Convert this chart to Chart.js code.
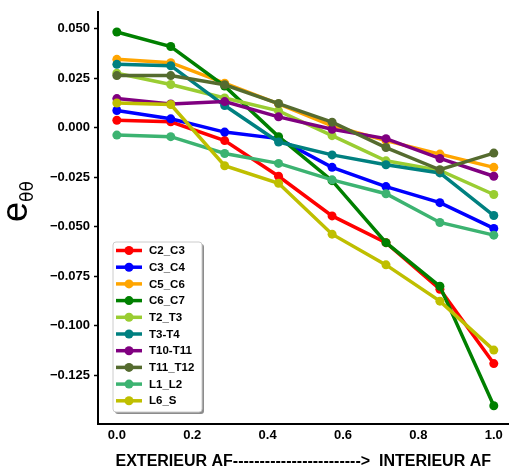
<!DOCTYPE html>
<html>
<head>
<meta charset="utf-8">
<script src="https://cdn.jsdelivr.net/npm/chart.js@4"></script>
<style>
  body { margin: 0; background: #fff; }
</style>
</head>
<body>
<canvas id="strainChart" width="513" height="469"></canvas>
<script>
// positions along the annulus (exterior -> interior)
const positions = [0.0, 0.143, 0.286, 0.429, 0.571, 0.714, 0.857, 1.0];

const levelNames = ["C2_C3", "C3_C4", "C5_C6", "C6_C7", "T2_T3", "T3-T4", "T10-T11", "T11_T12", "L1_L2", "L6_S"];
const levelColors = ["#ff0000", "#0000ff", "#ffa500", "#008000", "#9acd32", "#008080", "#800080", "#556b2f", "#3cb371", "#bfbf00"];

const c2c3 = [0.0038, 0.0030, -0.0065, -0.0245, -0.0445, -0.0580, -0.0815, -0.1190];
const c3c4 = [0.0087, 0.0045, -0.0022, -0.0055, -0.0200, -0.0297, -0.0378, -0.0508];
const c5c6 = [0.0345, 0.0328, 0.0225, 0.0120, 0.0010, -0.0065, -0.0133, -0.0200];
const c6c7 = [0.0483, 0.0410, 0.0210, -0.0045, -0.0267, -0.0580, -0.0800, -0.1403];
const t2t3 = [0.0275, 0.0218, 0.0150, 0.0085, -0.0040, -0.0167, -0.0215, -0.0337];
const t3t4 = [0.0320, 0.0313, 0.0112, -0.0072, -0.0137, -0.0187, -0.0228, -0.0443];
const t10t11 = [0.0147, 0.0120, 0.0132, 0.0055, -0.0008, -0.0055, -0.0155, -0.0245];
const t11t12 = [0.0263, 0.0263, 0.0217, 0.0122, 0.0028, -0.0100, -0.0212, -0.0128];
const l1l2 = [-0.0037, -0.0045, -0.0130, -0.0180, -0.0263, -0.0333, -0.0478, -0.0542];
const l6s = [0.0125, 0.0117, -0.0192, -0.0280, -0.0537, -0.0692, -0.0875, -0.1122];

const seriesValues = [c2c3, c3c4, c5c6, c6c7, t2t3, t3t4, t10t11, t11t12, l1l2, l6s];

const xTicks = [0.0, 0.2, 0.4, 0.6, 0.8, 1.0];
const yTicks = [0.050, 0.025, 0.000, -0.025, -0.050, -0.075, -0.100, -0.125];

const xTitle = "EXTERIEUR AF------------------------>  INTERIEUR AF";
const tickFont = { family: "Liberation Sans", size: 13, weight: "bold" };

const datasets = seriesValues.map(function (vals, i) {
  return {
    label: levelNames[i],
    data: vals.map(function (v, j) { return { x: positions[j], y: v }; }),
    borderColor: levelColors[i],
    backgroundColor: levelColors[i],
    pointBackgroundColor: levelColors[i],
    pointBorderWidth: 0,
    pointRadius: 4.5,
    borderWidth: 3.5,
    tension: 0,
    order: seriesValues.length - i   // later series on top, like matplotlib
  };
});

// y label (e with theta-theta subscript) and x title
const axisTitles = {
  id: "axisTitles",
  afterDraw(chart) {
    const c = chart.ctx;
    const area = chart.chartArea;
    c.save();
    c.fillStyle = "#000";
    c.font = "36px 'Liberation Sans'";
    c.translate(27, 222);
    c.rotate(-Math.PI / 2);
    c.textBaseline = "alphabetic";
    c.textAlign = "left";
    c.fillText("e", 0, 0);
    const w = c.measureText("e").width;
    c.font = "17px 'DejaVu Sans'";
    c.fillText("θθ", w, 6);
    c.restore();

    c.save();
    c.fillStyle = "#000";
    c.font = "bold 16px 'Liberation Sans'";
    c.textAlign = "center";
    c.textBaseline = "middle";
    c.fillText(xTitle, (area.left + area.right) / 2, 462);
    c.restore();
  }
};

// boxed legend in the lower-left of the plot, with shadow
const boxLegend = {
  id: "boxLegend",
  afterDatasetsDraw(chart) {
    const c = chart.ctx;
    const left = 113, top = 242, width = 89, height = 170;
    c.save();
    c.fillStyle = "rgba(0,0,0,0.45)";
    c.beginPath();
    c.roundRect(left + 2, top + 2, width, height, 3);
    c.fill();
    c.fillStyle = "#fff";
    c.strokeStyle = "#cccccc";
    c.lineWidth = 1;
    c.beginPath();
    c.roundRect(left, top, width, height, 3);
    c.fill();
    c.stroke();

    c.font = "bold 11.5px 'Liberation Sans'";
    c.textBaseline = "middle";
    c.textAlign = "left";
    chart.data.datasets.forEach(function (ds, i) {
      const y = 250.5 + i * 16.7;
      c.strokeStyle = ds.borderColor;
      c.lineWidth = 3.5;
      c.beginPath();
      c.moveTo(116, y);
      c.lineTo(142, y);
      c.stroke();
      c.fillStyle = ds.borderColor;
      c.beginPath();
      c.arc(129, y, 4.5, 0, Math.PI * 2);
      c.fill();
      c.fillStyle = "#000";
      c.fillText(ds.label, 149, y + 0.5);
    });
    c.restore();
  }
};

const ctx = document.getElementById("strainChart").getContext("2d");
const strainChart = new Chart(ctx, {
  type: "line",
  data: { datasets: datasets },
  options: {
    responsive: false,
    devicePixelRatio: 1,
    animation: false,
    layout: { padding: { top: 8, right: 0, left: 0, bottom: 0 } },
    plugins: {
      legend: { display: false },
      tooltip: { enabled: false }
    },
    scales: {
      x: {
        type: "linear",
        min: -0.05,
        max: 1.039,
        afterFit(scale) { scale.height = 45; },
        afterBuildTicks(scale) { scale.ticks = xTicks.map(function (v) { return { value: v }; }); },
        grid: { display: true, drawOnChartArea: false, drawTicks: false },
        border: { display: true, color: "#000", width: 2 },
        ticks: {
          color: "#000",
          font: tickFont,
          padding: 4,
          maxRotation: 0,
          callback: function (v) { return v.toFixed(1); }
        }
      },
      y: {
        min: -0.1495,
        max: 0.0585,
        afterFit(scale) { scale.width = 98; },
        afterBuildTicks(scale) { scale.ticks = yTicks.map(function (v) { return { value: v }; }); },
        grid: { display: true, drawOnChartArea: false, drawTicks: true, tickLength: 4, tickColor: "#000", tickWidth: 1.5 },
        border: { display: true, color: "#000", width: 2 },
        ticks: {
          color: "#000",
          font: tickFont,
          padding: 4,
          callback: function (v) { return v.toFixed(3).replace("-", "\u2212"); }
        }
      }
    }
  },
  plugins: [axisTitles, boxLegend]
});
</script>
</body>
</html>
